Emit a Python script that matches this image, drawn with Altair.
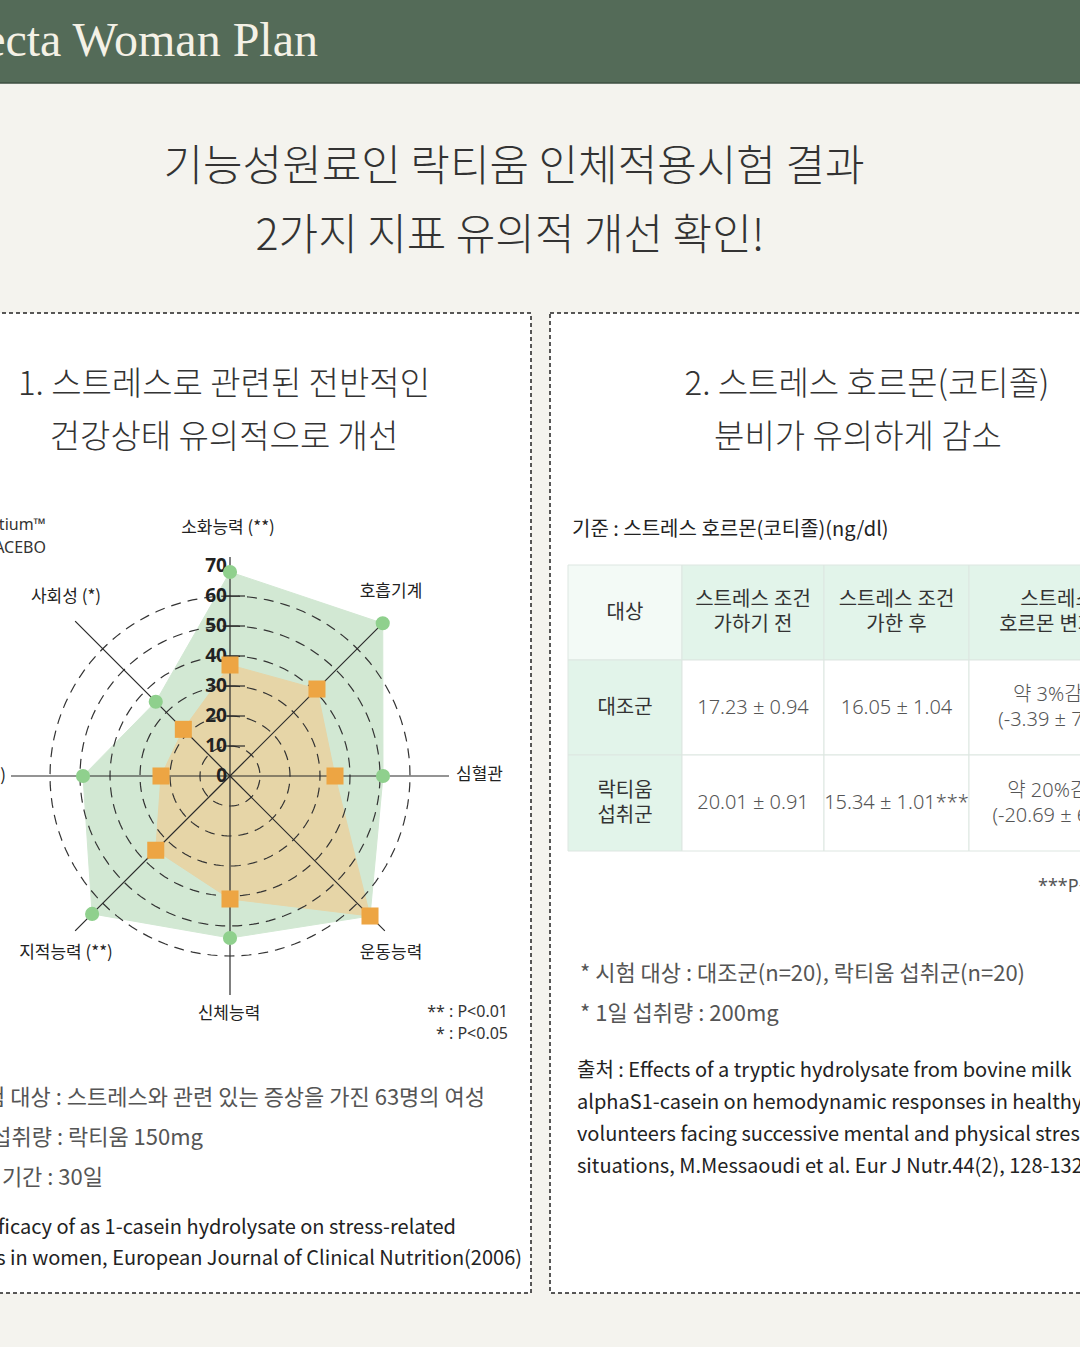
import altair as alt
import pandas as pd

# ---------------- data ----------------
axis_labels = ["소화능력 (**)", "호흡기계", "심혈관", "운동능력", "신체능력", "지적능력 (**)", "정서 (**)", "사회성 (*)"]
series_names = ["Lactium™", "PLACEBO"]
lactium = [68, 72, 51, 66, 54, 65, 49, 35]
placebo = [37, 41, 35, 66, 41, 35, 23, 22]
ring_values = [10, 20, 30, 40, 50, 60]
tick_values = [0, 10, 20, 30, 40, 50, 60, 70]

table_header = [["대상"], ["스트레스 조건", "가하기 전"], ["스트레스 조건", "가한 후"], ["스트레스", "호르몬 변화율"]]
table_rows = [
    [["대조군"], ["17.23 ± 0.94"], ["16.05 ± 1.04"], ["약 3%감소", "(-3.39 ± 7.05)"]],
    [["락티움", "섭취군"], ["20.01 ± 0.91"], ["15.34 ± 1.01***"], ["약 20%감소", "(-20.69 ± 6.12)"]],
]

KR = "Noto Sans CJK KR"
MIX = "Noto Sans, Noto Sans CJK KR"
one = pd.DataFrame({"k": [0]})
layers = []


def rect(x0, x1, y0, y1, **kw):
    return alt.Chart(one).mark_rect(**kw).encode(
        x=alt.value(x0), x2=alt.value(x1), y=alt.value(y0), y2=alt.value(y1))


def txt(s, x, y, size, color="#333333", align="left", weight=400, font=KR, baseline="middle"):
    return alt.Chart(one).mark_text(
        text=s, align=align, baseline=baseline, fontSize=size, color=color,
        fontWeight=weight, font=font).encode(x=alt.value(x), y=alt.value(y))


# ---------------- background ----------------
layers.append(rect(0, 1080, 0, 83, fill="#546b58"))
layers.append(alt.Chart(one).mark_rule(color="#3d4e40", strokeWidth=1.5).encode(
    x=alt.value(0), x2=alt.value(1080), y=alt.value(83)))
layers.append(rect(-5, 531, 313, 1293, fill="white", stroke="#222222", strokeWidth=1.5, strokeDash=[4, 3]))
layers.append(rect(550, 1095, 313, 1293, fill="white", stroke="#222222", strokeWidth=1.5, strokeDash=[4, 3]))

# ---------------- radar ----------------
rows = []
for name, vals in zip(series_names, [lactium, placebo]):
    for i in range(len(axis_labels) + 1):
        j = i % len(axis_labels)
        rows.append({"series": name, "axis": axis_labels[j], "idx": i, "value": vals[j]})
radar = pd.DataFrame(rows)

xs = alt.Scale(domain=[-80, 80], range=[-10, 470], nice=False, zero=False)
ys = alt.Scale(domain=[-80, 80], range=[1016, 536], nice=False, zero=False)

rbase = alt.Chart(radar).transform_calculate(
    px="datum.value*sin(datum.idx*PI/4)",
    py="datum.value*cos(datum.idx*PI/4)")

enc = dict(x=alt.X("px:Q", scale=xs, axis=None), y=alt.Y("py:Q", scale=ys, axis=None))

layers.append(rbase.transform_filter(alt.datum.series == series_names[0]).mark_line(
    fill="#d2e8d3", stroke="#d2e8d3", strokeWidth=1).encode(order="idx:Q", **enc))
layers.append(rbase.transform_filter(alt.datum.series == series_names[1]).mark_line(
    fill="#e6d5a7", stroke="#e6d5a7", strokeWidth=1).encode(order="idx:Q", **enc))

# rings
rings = alt.Chart(pd.DataFrame({"r": ring_values})).transform_calculate(
    a="sequence(0, 364, 3)").transform_flatten(["a"]).transform_calculate(
    px="datum.r*sin(datum.a*PI/180)", py="datum.r*cos(datum.a*PI/180)")
layers.append(rings.mark_line(color="#333333", strokeWidth=1.2, strokeDash=[10, 7]).encode(
    detail="r:N", order="a:Q", **enc))

# spokes
spokes = alt.Chart(pd.DataFrame({"idx": list(range(len(axis_labels)))})).transform_calculate(
    x0="0", y0="0",
    x1="73*sin(datum.idx*PI/4)", y1="73*cos(datum.idx*PI/4)")
layers.append(spokes.mark_rule(color="#2a2a2a", strokeWidth=1.2).encode(
    x=alt.X("x0:Q", scale=xs, axis=None), y=alt.Y("y0:Q", scale=ys, axis=None),
    x2="x1:Q", y2="y1:Q"))

# ticks on vertical axis
ticks = alt.Chart(pd.DataFrame({"t": tick_values[1:-1]})).transform_calculate(a="-1.7", b="5")
layers.append(ticks.mark_rule(color="#2a2a2a", strokeWidth=1.2).encode(
    x=alt.X("a:Q", scale=xs, axis=None), x2="b:Q", y=alt.Y("t:Q", scale=ys, axis=None)))
tl = alt.Chart(pd.DataFrame({"t": tick_values})).transform_calculate(z="0")
layers.append(tl.mark_text(align="right", baseline="middle", dx=-3, fontSize=19, fontWeight="bold",
                           font=MIX, color="#222222").encode(
    x=alt.X("z:Q", scale=xs, axis=None), y=alt.Y("t:Q", scale=ys, axis=None), text="t:Q"))

# points
pts = rbase.transform_filter(alt.datum.idx < len(axis_labels))
layers.append(pts.transform_filter(alt.datum.series == series_names[0]).mark_point(
    shape="circle", filled=True, size=200, color="#8fd08d", opacity=1).encode(**enc))
layers.append(pts.transform_filter(alt.datum.series == series_names[1]).mark_point(
    shape="square", filled=True, size=290, color="#eda543", opacity=1).encode(**enc))

# axis labels
lab_pos = [(228, 528, "center"), (391, 592, "center"), (456, 775, "left"), (391, 953, "center"),
           (229, 1014, "center"), (66, 953, "center"), (6, 776, "right"), (66, 597, "center")]
for lab, (x, y, al) in zip(axis_labels, lab_pos):
    layers.append(txt(lab, x, y, 17, color="#222222", align=al))

# legend (cropped)
layers.append(txt(series_names[0], 46, 525, 16, color="#333333", align="right", font=MIX))
layers.append(txt(series_names[1], 46, 548, 16, color="#333333", align="right", font=MIX))
layers.append(txt("** : P<0.01", 508, 1012, 16, color="#333333", align="right", font=MIX))
layers.append(txt("* : P<0.05", 508, 1034, 16, color="#333333", align="right", font=MIX))

# ---------------- headings ----------------
layers.append(txt("Perfecta Woman Plan", 318, 42, 48, color="#f4f1e6", align="right",
                  font="Liberation Serif", weight=400))
layers.append(txt("기능성원료인 락티움 인체적용시험 결과", 514, 168, 43, color="#333333", align="center", weight=300))
layers.append(txt("2가지 지표 유의적 개선 확인!", 510, 237, 43, color="#333333", align="center", weight=300))
layers.append(txt("1. 스트레스로 관련된 전반적인", 224, 385, 33, color="#333333", align="center", weight=300))
layers.append(txt("건강상태 유의적으로 개선", 224, 438, 33, color="#333333", align="center", weight=300))
layers.append(txt("2. 스트레스 호르몬(코티졸)", 867, 385, 33, color="#333333", align="center", weight=300))
layers.append(txt("분비가 유의하게 감소", 858, 438, 33, color="#333333", align="center", weight=300))

# ---------------- left notes ----------------
layers.append(txt("* 시험 대상 : 스트레스와 관련 있는 증상을 가진 63명의 여성", 485, 1098, 22, color="#555555", align="right"))
layers.append(txt("* 1일 섭취량 : 락티움 150mg", 203, 1138, 22, color="#555555", align="right"))
layers.append(txt("* 시험 기간 : 30일", 103, 1178, 22, color="#555555", align="right"))
layers.append(txt("출처 : Efficacy of as 1-casein hydrolysate on stress-related", 456, 1228, 20, color="#222222", align="right"))
layers.append(txt("symptoms in women, European Journal of Clinical Nutrition(2006)", 522, 1259, 20, color="#222222", align="right"))

# ---------------- table ----------------
layers.append(txt("기준 : 스트레스 호르몬(코티졸)(ng/dl)", 572, 530, 20, color="#222222"))
col_edges = [568, 682, 824, 969, 1145]
row_edges = [565, 660, 755, 851]
all_rows = [table_header] + table_rows
for r, row in enumerate(all_rows):
    for c, cell in enumerate(row):
        if r == 0:
            fill = "#f3faf6" if c == 0 else "#e2f4ea"
        else:
            fill = "#e2f4ea" if c == 0 else "white"
        layers.append(rect(col_edges[c], col_edges[c + 1], row_edges[r], row_edges[r + 1],
                           fill=fill, stroke="#dde6e1", strokeWidth=1))
        cx = (col_edges[c] + col_edges[c + 1]) / 2
        cy = (row_edges[r] + row_edges[r + 1]) / 2
        n = len(cell)
        bold_cell = (r == 0) or (c == 0)
        color = "#333333" if bold_cell else "#555555"
        w = 400 if bold_cell else 300
        for k, line in enumerate(cell):
            yy = cy + (k - (n - 1) / 2) * 25
            layers.append(txt(line, cx, yy, 20, color=color, align="center", weight=w, font=MIX))
layers.append(txt("***P<0.001", 1038, 887, 18, color="#555555", font=MIX))

# ---------------- right notes ----------------
layers.append(txt("* 시험 대상 : 대조군(n=20), 락티움 섭취군(n=20)", 580, 974, 22, color="#555555"))
layers.append(txt("* 1일 섭취량 : 200mg", 580, 1014, 22, color="#555555"))
cite = ["출처 : Effects of a tryptic hydrolysate from bovine milk",
        "alphaS1-casein on hemodynamic responses in healthy human",
        "volunteers facing successive mental and physical stress",
        "situations, M.Messaoudi et al. Eur J Nutr.44(2), 128-132(2005)"]
for k, line in enumerate(cite):
    layers.append(txt(line, 577, 1071 + 32 * k, 20, color="#222222"))

chart = alt.layer(*layers).properties(
    width=1080, height=1347, background="#f4f3ee", padding=0,
    autosize=alt.AutoSizeParams(type="none")
).configure_view(stroke=None)

chart.save("out.html", embed_options={"renderer": "svg", "actions": False})
